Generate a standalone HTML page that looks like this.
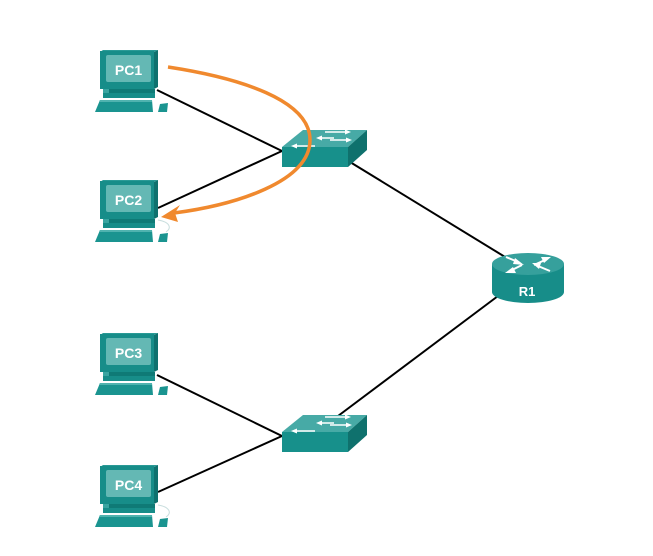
<!DOCTYPE html>
<html><head><meta charset="utf-8"><style>
html,body{margin:0;padding:0;background:#fff;}
svg{display:block;}
text{font-family:"Liberation Sans",Arial,sans-serif;font-weight:bold;fill:#fff;}
</style></head><body>
<svg width="653" height="556" viewBox="0 0 653 556" xmlns="http://www.w3.org/2000/svg">
<defs>
  <g id="pc">
    <polygon points="0,2 3,0 58,0 54,2" fill="#2a9a96"/>
    <rect x="0" y="1" width="54" height="38" fill="#178d89"/>
    <polygon points="54,2 58,0 58,37 54,39" fill="#0f716e"/>
    <rect x="6" y="5" width="45" height="27" rx="2" fill="#64b8b4"/>
    <rect x="5" y="39" width="50" height="4" fill="#0f7a76"/>
    <rect x="3" y="39" width="6" height="4" fill="#3aa5a1"/>
    <rect x="3" y="43" width="52" height="5" fill="#178d89"/>
    <polygon points="0,50 52,50 53,62 -5,62" fill="#1a9490"/>
    <polygon points="0,50 52,50 52,52 -1,52" fill="#4fb3af"/>
    <polygon points="60,54 68,53 67,62 58,62" fill="#1a9490"/>
  </g>
  <g id="sw">
    <polygon points="282,147 303,130 367,130 348,147" fill="#47aaa6"/>
    <rect x="282" y="147" width="66" height="20" fill="#17908b"/>
    <polygon points="348,147 367,130 367,150 348,167" fill="#0f716d"/>
    <g stroke="#fff" stroke-width="1.5" fill="#fff">
      <line x1="325" y1="132" x2="347" y2="132"/><polygon points="351,132 345,129.5 345,134.5" stroke="none"/>
      <line x1="320" y1="138" x2="334" y2="138"/><polygon points="316,138 322,135.5 322,140.5" stroke="none"/>
      <line x1="330" y1="140" x2="348" y2="140"/><polygon points="352,140 346,137.5 346,142.5" stroke="none"/>
      <line x1="295" y1="146" x2="315" y2="146"/><polygon points="291,146 297,143.5 297,148.5" stroke="none"/>
    </g>
  </g>
</defs>

<!-- links -->
<g stroke="#000" stroke-width="2" fill="none">
  <line x1="157" y1="90" x2="282" y2="151"/>
  <line x1="158" y1="208" x2="282" y2="151"/>
  <line x1="350" y1="162" x2="510" y2="260"/>
  <line x1="498" y1="296" x2="338" y2="416"/>
  <line x1="157" y1="375" x2="282" y2="436"/>
  <line x1="158" y1="492" x2="282" y2="436"/>
</g>

<!-- PCs -->
<g transform="translate(100,50)"><use href="#pc"/><text x="28.5" y="25" font-size="14" text-anchor="middle">PC1</text></g>
<g transform="translate(100,180)"><use href="#pc"/>
  <path d="M58,40 C70,42 72,48 66,52" stroke="#c9dede" stroke-width="1" fill="none"/>
  <text x="28.5" y="25" font-size="14" text-anchor="middle">PC2</text></g>
<g transform="translate(100,333)"><use href="#pc"/><text x="28.5" y="25" font-size="14" text-anchor="middle">PC3</text></g>
<g transform="translate(100,465)"><use href="#pc"/>
  <path d="M58,40 C70,42 72,48 66,52" stroke="#c9dede" stroke-width="1" fill="none"/>
  <text x="28.5" y="25" font-size="14" text-anchor="middle">PC4</text></g>

<!-- switches -->
<use href="#sw"/>
<use href="#sw" transform="translate(0,285)"/>

<!-- router -->
<g>
  <path d="M492,264 L492,292 A36,11 0 0 0 564,292 L564,264 Z" fill="#178d89"/>
  <ellipse cx="528" cy="264" rx="36" ry="11" fill="#36a09c"/>
  <g stroke="#fff" stroke-width="2" fill="#fff">
    <line x1="506" y1="257" x2="518" y2="262"/><polygon points="524,265 515,258 513,264" stroke="none"/>
    <line x1="534" y1="265" x2="545" y2="260"/><polygon points="551,257 541,257 544,263" stroke="none"/>
    <line x1="512" y1="270" x2="522" y2="265"/><polygon points="505,273 513,267 516,273" stroke="none"/>
    <line x1="538" y1="266" x2="550" y2="271"/><polygon points="532,263 541,263 539,269" stroke="none"/>
  </g>
  <text x="527" y="296" font-size="13" text-anchor="middle">R1</text>
</g>

<!-- orange flow arrow -->
<path d="M168,67 C240,78 310,100 310,140 C310,182 235,205 174,213" stroke="#f0892e" stroke-width="3.5" fill="none"/>
<polygon points="161,217 180,205 175,213 178,222" fill="#f0892e"/>
</svg>
</body></html>
